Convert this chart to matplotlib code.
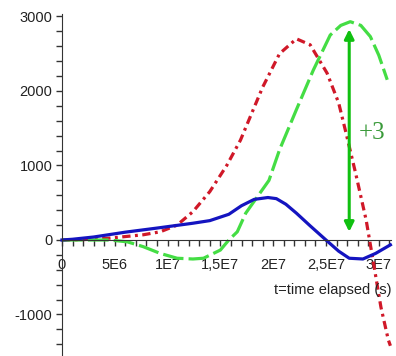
import numpy as np
import matplotlib
matplotlib.use("Agg")
import matplotlib.pyplot as plt
from matplotlib.ticker import FixedLocator

# time in units of 1E6 s
t_blue = [0, 1, 3, 6, 9, 12.4, 14, 15.8, 17, 18.2, 19.5, 20.3, 21.2, 22.2, 23.5, 25, 26.2, 27.2, 28.5, 29.7, 31.1]
v_blue = [0, 10, 40, 105, 160, 225, 260, 345, 460, 545, 570, 555, 480, 360, 190, 0, -150, -245, -255, -180, -65]

t_red = [0, 2, 4.5, 7.7, 9.3, 10.9, 12.4, 14, 15.6, 16.9, 19, 20.6, 22.2, 23.5, 25.1, 26.2, 26.9, 27.8, 28.8, 29.5, 30.2, 30.9, 31.1]
v_red = [0, 5, 25, 70, 110, 200, 380, 650, 1000, 1340, 2050, 2500, 2700, 2620, 2240, 1840, 1435, 900, 270, -310, -900, -1340, -1420]

t_green = [0, 4.5, 6.2, 7.7, 9.3, 10.9, 12.4, 13.4, 15, 15.8, 16.6, 17.4, 19.6, 20.6, 22.2, 23.8, 25.4, 26.4, 27.3, 28.3, 29.2, 30, 30.8]
v_green = [0, 0, -25, -90, -180, -245, -255, -245, -135, 0, 110, 360, 800, 1210, 1750, 2280, 2750, 2880, 2930, 2880, 2730, 2480, 2150]

xticks = [0, 5e6, 1e7, 1.5e7, 2e7, 2.5e7, 3e7]
xticklabels = ["0", "5E6", "1E7", "1,5E7", "2E7", "2,5E7", "3E7"]
yticks = [-1000, 0, 1000, 2000, 3000]
yticklabels = ["-1000", "0", "1000", "2000", "3000"]

arrow_t = 27.2e6
arrow_lo, arrow_hi = 110, 2830

plt.rcParams["font.family"] = ["Liberation Sans", "DejaVu Sans"]
fig = plt.figure(figsize=(3.96, 3.56), dpi=100)
ax = fig.add_axes([0, 0, 1, 1])
ax.set_xlim(-5.87e6, 31.63e6)
ax.set_ylim(-1557, 3221)

s = 1e6
ax.plot(np.array(t_red) * s, v_red, color="#d01828", lw=2.3,
        dashes=(2.6, 1.4, 0.9, 1.4))
ax.plot(np.array(t_green) * s, v_green, color="#44dd44", lw=2.3,
        dashes=(6.5, 1.6))
ax.plot(np.array(t_blue) * s, v_blue, color="#1414c0", lw=2.3)

ax.annotate("", xy=(arrow_t, arrow_hi), xytext=(arrow_t, arrow_lo),
            arrowprops=dict(arrowstyle="<|-|>", color="#10c010", lw=2.2,
                            mutation_scale=14, shrinkA=0, shrinkB=0))
ax.text(29.4e6, 1440, "+3", color="#3a9a3a", fontsize=18,
        family="Liberation Serif", ha="center", va="center")

for side in ["top", "right"]:
    ax.spines[side].set_visible(False)
ax.spines["left"].set_position(("data", 0))
ax.spines["bottom"].set_position(("data", 0))
ax.spines["left"].set_bounds(-1557, 3030)
ax.spines["bottom"].set_bounds(0, 31.2e6)
ax.spines["left"].set_color("#333333")
ax.spines["bottom"].set_color("#333333")

ax.xaxis.set_major_locator(FixedLocator(xticks))
ax.set_xticklabels(xticklabels)
ax.xaxis.set_minor_locator(FixedLocator(np.arange(1, 32) * 1e6))
ax.yaxis.set_major_locator(FixedLocator(yticks))
ax.set_yticklabels(yticklabels)
ax.yaxis.set_minor_locator(FixedLocator(np.arange(-7, 15) * 200))
ax.tick_params(axis="x", which="both", direction="out", length=4, width=1,
               color="#333333", pad=9, labelsize=10.5, labelcolor="#222222")
ax.tick_params(axis="y", which="both", direction="out", length=4, width=1,
               color="#333333", pad=3, labelsize=10.5, labelcolor="#222222")

ax.text(31.2e6, -670, "t=time elapsed (s)", ha="right", va="center",
        fontsize=10.5, color="#222222")

fig.savefig("out.png", dpi=100)
